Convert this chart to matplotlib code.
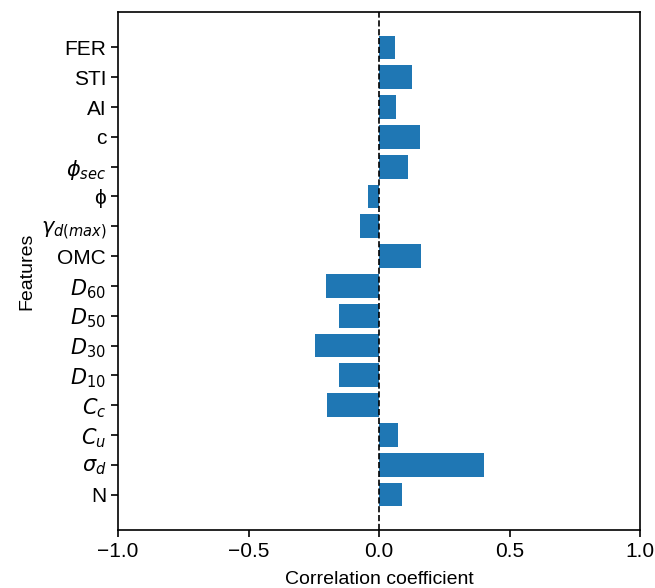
import matplotlib
matplotlib.use("Agg")
import matplotlib.pyplot as plt

plt.rcParams['font.family'] = ['Liberation Sans', 'DejaVu Sans']
plt.rcParams['mathtext.fontset'] = 'dejavusans'

features = ['N', r'$\sigma_d$', r'$C_u$', r'$C_c$', r'$D_{10}$', r'$D_{30}$', r'$D_{50}$',
            r'$D_{60}$', 'OMC', r'$\gamma_{d(max)}$', 'ϕ', r'$\phi_{sec}$', 'c', 'AI', 'STI', 'FER']
values = [0.088, 0.402, 0.073, -0.199, -0.153, -0.245, -0.153,
          -0.203, 0.161, -0.073, -0.042, 0.111, 0.157, 0.065, 0.126, 0.061]
xticks = [-1.0, -0.5, 0.0, 0.5, 1.0]

fig = plt.figure(figsize=(6.55, 5.88), dpi=100)
ax = fig.add_axes([118/655, 1 - 530/588, (640-118)/655, (530-12)/588])
ax.barh(range(len(features)), values, color='#1f77b4', height=0.8)
ax.axvline(0, color='black', linestyle='--', linewidth=1.2)
ax.set_yticks(range(len(features)))
ax.set_yticklabels(features, fontsize=15)
ax.set_xlim(-1, 1)
ax.set_xticks(xticks)
ax.set_xticklabels([f"{t:.1f}".replace('-', '\u2212') for t in xticks], fontsize=15)
ax.set_xlabel('Correlation coefficient', fontsize=14, labelpad=7)
ax.set_ylabel('Features', fontsize=14, labelpad=4)
for s in ax.spines.values():
    s.set_linewidth(1.2)
ax.tick_params(width=1.2, length=5)
fig.savefig('out.png', dpi=100)
